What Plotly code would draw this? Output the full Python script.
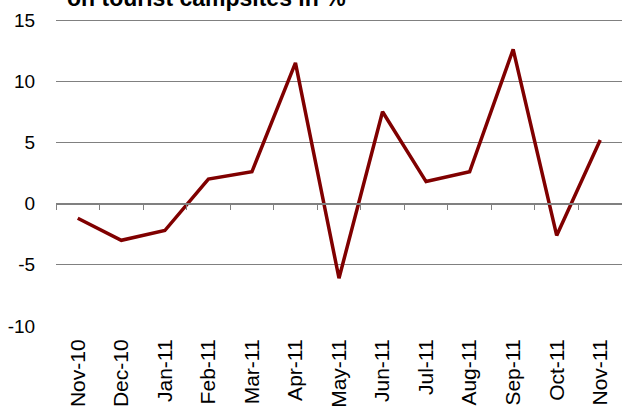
import plotly.graph_objects as go

months = ["Nov-10", "Dec-10", "Jan-11", "Feb-11", "Mar-11", "Apr-11", "May-11",
          "Jun-11", "Jul-11", "Aug-11", "Sep-11", "Oct-11", "Nov-11"]
values = [-1.2, -3.0, -2.2, 2.0, 2.6, 11.5, -6.1, 7.5, 1.8, 2.6, 12.6, -2.6, 5.2]
y_ticks = [-10, -5, 0, 5, 10, 15]
title_line = "on tourist campsites in %"

idx = list(range(len(months)))
boundaries = [i - 0.5 for i in range(len(months) + 1)]

fig = go.Figure()
fig.add_trace(go.Scatter(x=idx, y=values, mode="lines",
                         line=dict(color="#800000", width=3.5),
                         hoverinfo="skip", showlegend=False))
# invisible trace to activate the category-boundary axis at y=0
fig.add_trace(go.Scatter(x=[boundaries[0], boundaries[-1]], y=[0, 0], xaxis="x2",
                         mode="lines", line=dict(width=0), hoverinfo="skip",
                         showlegend=False))

fam = "Liberation Sans, Arial, sans-serif"
yfont = dict(family=fam, size=19, color="#000000")
xfont = dict(family=fam, size=21, color="#000000")

fig.update_layout(
    width=622, height=412,
    margin=dict(l=56, r=0, t=20, b=86, autoexpand=False),
    paper_bgcolor="white", plot_bgcolor="white",
    font=yfont,
    xaxis=dict(range=[-0.5, len(months) - 0.5], tickmode="array", tickvals=idx,
               ticktext=months, tickangle=-90, showgrid=False, zeroline=False,
               showline=False, ticks="outside", ticklen=4,
               tickcolor="rgba(0,0,0,0)", tickfont=xfont, fixedrange=True,
               automargin=False),
    xaxis2=dict(range=[-0.5, len(months) - 0.5], overlaying="x", anchor="free",
                position=(0 - y_ticks[0]) / (y_ticks[-1] - y_ticks[0]),
                side="bottom", tickmode="array", tickvals=boundaries,
                showticklabels=False, ticks="outside", ticklen=5, tickwidth=1,
                tickcolor="#808080", showline=True, linecolor="#808080",
                linewidth=2, showgrid=False, zeroline=False, automargin=False),
    yaxis=dict(range=[y_ticks[0], y_ticks[-1]], tickmode="array", tickvals=y_ticks,
               ticktext=[str(v) for v in y_ticks], showgrid=True,
               gridcolor="#808080", gridwidth=1, zeroline=False, showline=False,
               ticks="outside", ticklen=16, tickcolor="rgba(0,0,0,0)",
               tickfont=yfont, fixedrange=True, automargin=False),
    annotations=[dict(text="<b>" + title_line + "</b>", xref="paper", yref="paper",
                      x=0.016, y=1.0235, xanchor="left", yanchor="bottom",
                      showarrow=False,
                      font=dict(family=fam, size=23, color="#000000"))],
)
fig.add_shape(type="line", xref="paper", yref="y", x0=0, x1=1, y0=y_ticks[-1],
              y1=y_ticks[-1], line=dict(color="#808080", width=2))

fig.write_html("out.html", config={"displayModeBar": False},
               post_script="document.body.style.margin='0';")
